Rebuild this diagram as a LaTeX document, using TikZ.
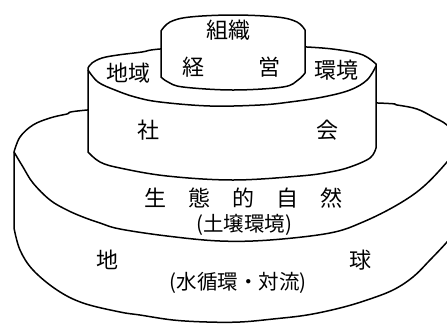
\documentclass[tikz,border=0pt]{standalone}
\usepackage{fontspec}
\newfontfamily\jp{Noto Sans CJK JP}
\begin{document}
\begin{tikzpicture}[x=1pt,y=-1pt,
  outline/.style={draw=black,line width=1.5pt,line join=round,fill=white},
  edge/.style={draw=black,line width=1.5pt},
  lbl/.style={font=\jp\fontsize{22}{24}\selectfont,inner sep=0pt},
  sublbl/.style={font=\jp\fontsize{20.5}{24}\selectfont,inner sep=0pt}]
\useasboundingbox (0,0) rectangle (447,325);
\clip (0,0) rectangle (447,325);
% bottom tier (earth)
\path[outline] (14,228) -- (14,152)
  -- plot[smooth,tension=0.6] coordinates {(14,152) (20,137) (33,125) (50,118) (67,114) (87,110) (233,98) (378,103) (397,105) (417,109) (433,117) (447,125) (462,142)}
  -- (462,224)
  -- plot[smooth,tension=0.6] coordinates {(462,224) (447,242) (430,260) (413,277) (393,290) (367,300) (340,308) (307,315) (273,319) (240,322) (207,322) (173,320) (140,315) (120,312) (83,303) (57,290) (33,270) (20,250) (14,228)}
  -- cycle;
\draw[edge] plot[smooth,tension=0.6] coordinates {(14,152) (23,167) (33,183) (50,200) (67,210) (83,217) (100,223) (120,229) (167,236) (220,241) (270,240) (330,233) (363,222) (397,205) (423,187) (447,162) (460,144)};
% middle tier (society)
\path[outline] (88,152) -- (88,68)
  -- plot[smooth,tension=0.6] coordinates {(88,68) (92,63) (102,58) (118,55) (142,52) (160,49) (233,44) (307,47) (340,50) (363,55) (376,64)}
  -- (376,148)
  -- plot[smooth,tension=0.6] coordinates {(376,148) (370,158) (350,167) (330,172) (300,176) (233,180) (167,176) (120,168) (100,162) (88,152)}
  -- cycle;
\draw[edge] plot[smooth,tension=0.6] coordinates {(88,70) (98,82) (115,90) (135,97) (160,102) (210,106) (260,105) (290,102) (323,97) (350,90) (367,80) (376,66)};
% top tier (organisation)
\path[outline] (161,77) -- (161,31)
  -- plot[smooth,tension=0.6] coordinates {(161,31) (170,22) (190,17) (233,15) (277,17) (297,22) (305,30)}
  -- (305,73)
  -- plot[smooth,tension=0.6] coordinates {(305,73) (298,80) (283,87) (233,90) (183,87) (168,82) (161,77)}
  -- cycle;
% labels
\node[lbl] (soshiki) at (228,30) {組織};
\node[lbl] (kei) at (193,67) {経};
\node[lbl] (ei) at (269,67) {営};
\node[lbl] (chiiki) at (128,73) {地域};
\node[lbl] (kankyo) at (336,70) {環境};
\node[lbl] (sha) at (148,130) {社};
\node[lbl] (kai) at (327,130) {会};
\node[lbl] (seitai) at (243,198) {生\quad 態\quad 的\quad 自\quad 然};
\node[sublbl] (dojo) at (244,225) {(土壌環境)};
\node[lbl] (chi) at (107,260) {地};
\node[lbl] (kyu) at (360,260) {球};
\node[sublbl] (mizu) at (238,283) {(水循環・対流)};
\end{tikzpicture}
\end{document}
